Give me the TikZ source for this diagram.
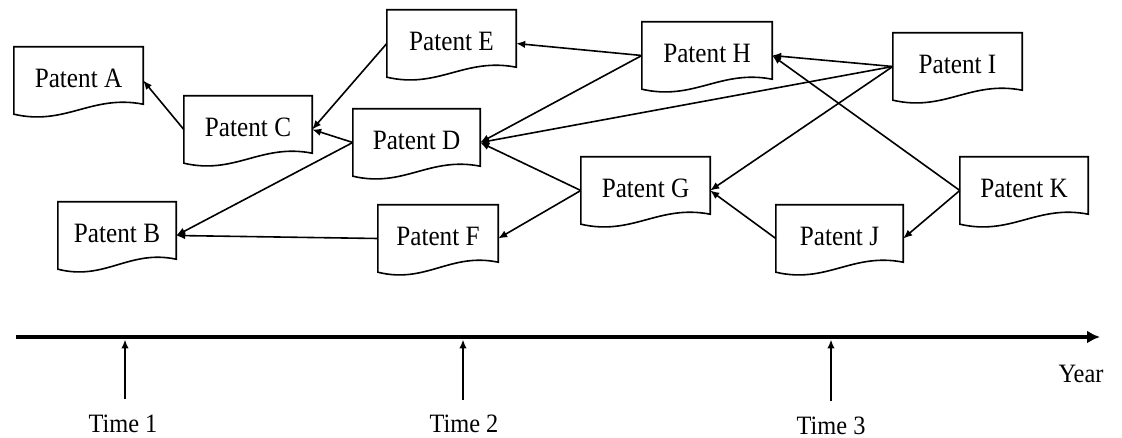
\documentclass[tikz,border=0pt]{standalone}
\usepackage{graphicx}
\usepackage{fontspec}
\setmainfont{Liberation Serif}
\usetikzlibrary{calc,arrows.meta}
\tikzset{
  doc/.style={minimum width=128pt, minimum height=67pt, inner sep=0pt, draw=none,
              font=\fontsize{28pt}{33pt}\selectfont},
  docline/.style={draw=black, line width=1.6pt, line join=miter},
  link/.style={draw=black, line width=1.6pt, -{Latex[length=9pt,width=7.5pt]}},
  timearrow/.style={draw=black, line width=1.7pt, -{Latex[length=9pt,width=7.5pt]}},
  axis/.style={draw=black, line width=4pt, -{Latex[length=13pt,width=13pt]}},
  tlabel/.style={font=\fontsize{26.5pt}{31pt}\selectfont, inner sep=0pt}
}
\newcommand\docoutline[1]{%
  \path[docline] (#1.north west) -- (#1.south west)
    .. controls ($(#1.south west)!0.4!(#1.south east)+(0,-12pt)$)
       and ($(#1.south west)!0.6!(#1.south east)+(0,20pt)$)
    .. ($(#1.south east)+(0,10pt)$) -- (#1.north east) -- cycle;}
\newcommand\pat[1]{\raisebox{5pt}{\scalebox{0.9}[1]{Patent #1}}}
\newcommand\tl[1]{\scalebox{0.92}[1]{#1}}
\begin{document}
\begin{tikzpicture}[x=1pt,y=-1pt]
\useasboundingbox (0,0) rectangle (1122,438);
% documents
\node[doc, minimum width=129pt] (A) at (78.5,80.5) {\pat{A}};
\node[doc, minimum width=118pt] (B) at (117,235.5) {\pat{B}};
\node[doc] (C) at (248,129.5) {\pat{C}};
\node[doc, minimum width=127pt] (D) at (416.5,142.5) {\pat{D}};
\node[doc, minimum width=129pt] (E) at (451.5,43.5) {\pat{E}};
\node[doc, minimum width=120pt] (F) at (438,238.5) {\pat{F}};
\node[doc, minimum width=129pt] (G) at (645.5,190.5) {\pat{G}};
\node[doc, minimum width=130pt] (H) at (707,55.5) {\pat{H}};
\node[doc, minimum width=129pt] (I) at (957.5,66.5) {\pat{I}};
\node[doc, minimum width=127pt] (J) at (839.5,238.5) {\pat{J}};
\node[doc] (K) at (1024,190.5) {\pat{K}};
\foreach \n in {A,B,C,D,E,F,G,H,I,J,K} {\docoutline{\n}}
% citations
\draw[link] (C.west) -- (A.east);
\draw[link] (E.west) -- (C.east);
\draw[link] (D.west) -- (C.east);
\draw[link] (D.west) -- (B.east);
\draw[link] (F.west) -- (B.east);
\draw[link] (H.west) -- (E.east);
\draw[link] (H.west) -- (D.east);
\draw[link] (I.west) -- (D.east);
\draw[link] (G.west) -- (D.east);
\draw[link] (G.west) -- (F.east);
\draw[link] (I.west) -- (H.east);
\draw[link] (I.west) -- (G.east);
\draw[link] (K.west) -- (H.east);
\draw[link] (K.west) -- (J.east);
\draw[link] (J.west) -- (G.east);
% timeline
\coordinate (ax0) at (16,337);
\coordinate (ax1) at (1100,337);
\draw[axis] (ax0) -- (ax1);
\node[tlabel] (year) at (1081,374) {\tl{Year}};
\node[tlabel] (t1) at (123,424) {\tl{Time 1}};
\node[tlabel] (t2) at (464,424) {\tl{Time 2}};
\node[tlabel] (t3) at (831,425.5) {\tl{Time 3}};
\coordinate (t1b) at (125,399); \coordinate (t1a) at (125,339.5);
\coordinate (t2b) at (463,400); \coordinate (t2a) at (463,339.5);
\coordinate (t3b) at (831,401); \coordinate (t3a) at (831,339.5);
\draw[timearrow] (t1b) -- (t1a);
\draw[timearrow] (t2b) -- (t2a);
\draw[timearrow] (t3b) -- (t3a);
\end{tikzpicture}
\end{document}
